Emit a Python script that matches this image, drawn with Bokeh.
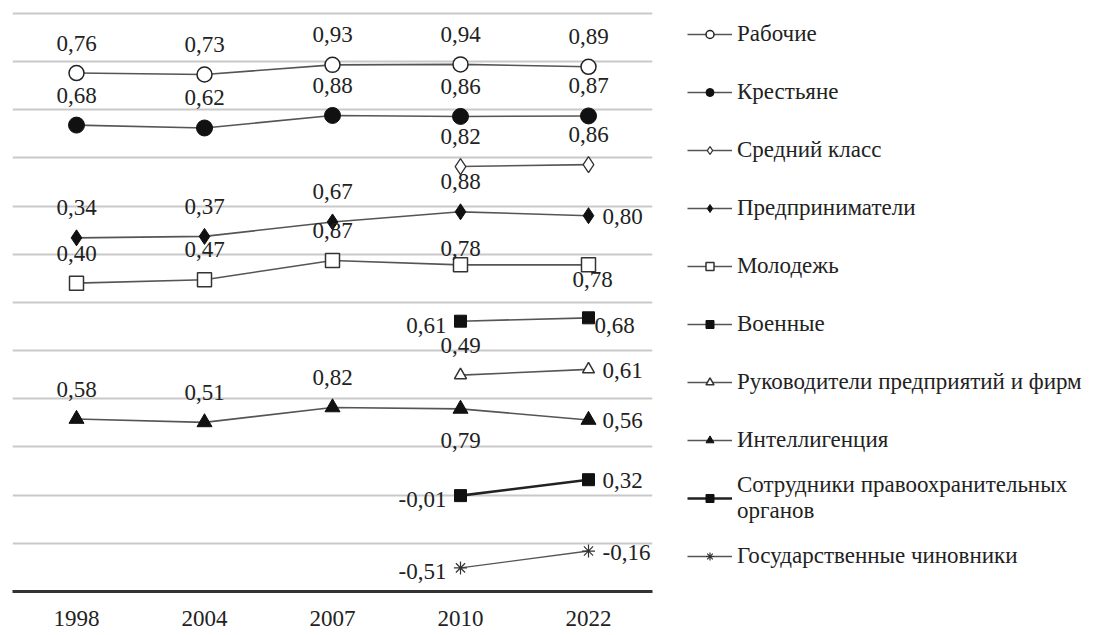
import math
from bokeh.plotting import figure
from bokeh.models import ColumnDataSource, Legend, LegendItem, FixedTicker, Range1d, FactorRange
from bokeh.core.properties import value
from bokeh.embed import file_html
from bokeh.resources import INLINE

nan = float("nan")

# ---------------- data ----------------
years = ["1998", "2004", "2007", "2010", "2022"]

names = [
    "Рабочие",
    "Крестьяне",
    "Средний класс",
    "Предприниматели",
    "Молодежь",
    "Военные",
    "Руководители предприятий и фирм",
    "Интеллигенция",
    "Сотрудники правоохранительных\nорганов",
    "Государственные чиновники",
]

rabochie = [0.76, 0.73, 0.93, 0.94, 0.89]
krestyane = [0.68, 0.62, 0.88, 0.86, 0.87]
sredniy_klass = [nan, nan, nan, 0.82, 0.86]
predprinimateli = [0.34, 0.37, 0.67, 0.88, 0.80]
molodezh = [0.40, 0.47, 0.87, 0.78, 0.78]
voennye = [nan, nan, nan, 0.61, 0.68]
rukovoditeli = [nan, nan, nan, 0.49, 0.61]
intelligentsiya = [0.58, 0.51, 0.82, 0.79, 0.56]
sotrudniki = [nan, nan, nan, -0.01, 0.32]
chinovniki = [nan, nan, nan, -0.51, -0.16]

series = [rabochie, krestyane, sredniy_klass, predprinimateli, molodezh,
          voennye, rukovoditeli, intelligentsiya, sotrudniki, chinovniki]

# ---------------- layout / style ----------------
# each series is drawn on its own band: value + band offset
band_offsets = [10, 9, 8, 7, 6, 5, 4, 3, 2, 1]

# label placement code per point
label_pos = [
    ["a", "a", "a", "a", "a"],
    ["a", "a", "a", "a", "a"],
    [None, None, None, "a", "a"],
    ["a", "a", "a", "a", "r"],
    ["a", "a", "a", "a2", "b2"],
    [None, None, None, "l", "r2"],
    [None, None, None, "a", "r"],
    ["a", "a", "a", "b", "r"],
    [None, None, None, "l", "r"],
    [None, None, None, "l", "r"],
]
pos_style = {
    "a": (0, -30, "center"),
    "a2": (0, -16, "center"),
    "b": (0, 32, "center"),
    "b2": (4, 15, "center"),
    "r": (14, 1, "left"),
    "r2": (6, 8, "left"),
    "l": (-14, 4, "right"),
}

markers = [
    dict(marker="circle", size=15, fill_color="white", line_color="#222222", line_width=1.5),
    dict(marker="circle", size=16, fill_color="#111111", line_color="#111111", line_width=1),
    dict(marker="diamond", size=16, fill_color="white", line_color="#333333", line_width=1.3),
    dict(marker="diamond", size=16, fill_color="#111111", line_color="#111111", line_width=1),
    dict(marker="square", size=14, fill_color="white", line_color="#333333", line_width=1.5),
    dict(marker="square", size=12, fill_color="#111111", line_color="#111111", line_width=1),
    dict(marker="triangle", size=12, fill_color="white", line_color="#333333", line_width=1.5),
    dict(marker="triangle", size=15, fill_color="#111111", line_color="#111111", line_width=1),
    dict(marker="square", size=12, fill_color="#111111", line_color="#111111", line_width=1),
    dict(marker="asterisk", size=13, fill_color="#333333", line_color="#333333", line_width=1.2),
]
line_styles = [dict(line_color="#555555", line_width=1.6)] * 8 + [
    dict(line_color="#222222", line_width=2.6),
    dict(line_color="#555555", line_width=1.4),
]

FONT = "Liberation Serif"
FS = "23px"
LFS = "23px"

p = figure(
    frame_width=640, frame_height=583,
    x_range=FactorRange(*years, range_padding=0),
    y_range=Range1d(0, 12.1),
    output_backend="svg", toolbar_location=None,
    min_border_left=12, min_border_right=0, min_border_top=8, min_border_bottom=3,
)
p.outline_line_color = None
p.background_fill_color = "white"

p.yaxis.visible = False
p.ygrid.ticker = FixedTicker(ticks=list(range(1, 13)))
p.ygrid.grid_line_color = "#c9c9c9"
p.ygrid.grid_line_width = 2
p.xgrid.grid_line_color = None

p.xaxis.axis_line_color = "#333333"
p.xaxis.axis_line_width = 3
p.xaxis.major_tick_line_color = None
p.xaxis.minor_tick_line_color = None
p.xaxis.major_label_text_font = FONT
p.xaxis.major_label_text_font_size = FS
p.xaxis.major_label_text_color = "#222222"
p.xaxis.major_label_standoff = 13

items = []
for k, (vals, off) in enumerate(zip(series, band_offsets)):
    ys = [v + off if not math.isnan(v) else nan for v in vals]
    src = ColumnDataSource(dict(x=years, y=ys))
    lr = p.line("x", "y", source=src, **line_styles[k])
    sr = p.scatter("x", "y", source=src, **markers[k])
    items.append(LegendItem(label=names[k], renderers=[lr, sr]))

    tx, ty, txt, xo, yo, al = [], [], [], [], [], []
    for i, v in enumerate(vals):
        code = label_pos[k][i]
        if code is None or math.isnan(v):
            continue
        dx, dy, align = pos_style[code]
        tx.append(years[i]); ty.append(v + off)
        txt.append(f"{v:.2f}".replace(".", ","))
        xo.append(dx); yo.append(dy); al.append(align)
    tsrc = ColumnDataSource(dict(x=tx, y=ty, t=txt, xo=xo, yo=yo, al=al))
    p.text("x", "y", text="t", source=tsrc, x_offset="xo", y_offset="yo",
           text_align="al", text_baseline="middle",
           text_font=value(FONT), text_font_size=FS, text_color="#222222")

legend = Legend(
    items=items, location=(35, 8),
    glyph_width=45, glyph_height=20, label_height=54, spacing=4,
    label_standoff=5, margin=0, padding=0,
    label_text_font=FONT, label_text_font_size=LFS, label_text_color="#222222",
    border_line_color=None, background_fill_alpha=0,
)
p.add_layout(legend, "right")

open("out.html", "w").write(file_html(p, INLINE))
